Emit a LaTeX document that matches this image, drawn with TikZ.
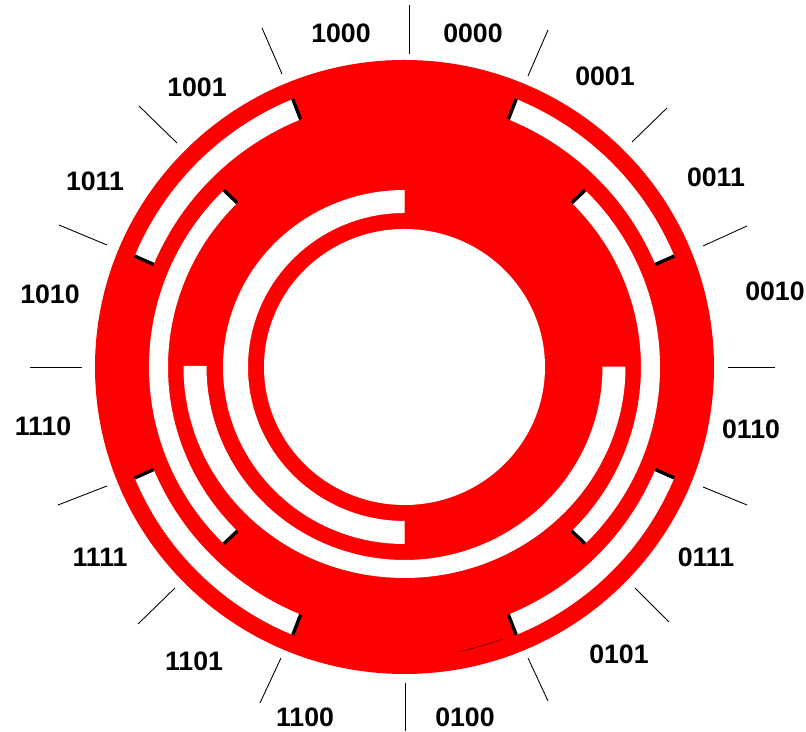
\documentclass[tikz,border=0pt]{standalone}
\usepackage{fontspec}
\setmainfont{Liberation Sans}
\definecolor{wheelred}{RGB}{255,0,0}
\newcommand{\slot}[6]{%
  \fill[white] (wheel) ++(#1:#3 and #4) arc[start angle=#1,end angle=#2,x radius=#3,y radius=#4]
    -- ($(wheel)+(#2:#5 and #6)$) arc[start angle=#2,end angle=#1,x radius=#5,y radius=#6] -- cycle;}
\newcommand{\slotend}[5]{%
  \draw[slotcap] ($(wheel)+(#1:#2 and #3)$) -- ($(wheel)+(#1:#4 and #5)$);}
\usetikzlibrary{calc}
\begin{document}
\begin{tikzpicture}[x=0.02cm,y=0.02cm,
    codelab/.style={font=\fontsize{15.2}{17}\selectfont\bfseries,inner sep=0pt},
    tick/.style={black,line width=0.5pt},
    slotcap/.style={black,line width=1.9pt}]
  \useasboundingbox (0,0) rectangle (806,732);
  \coordinate (wheel) at (404.5,365);
  % disc and hole
  \fill[wheelred] (wheel) ellipse [x radius=309.5,y radius=307];
  \fill[white] (wheel) ellipse [x radius=140.5,y radius=138];
  % tracks, inner to outer
  \slot{90}{270}{181.5}{177}{156.5}{154}
  \slot{179.7}{360.1}{221}{211}{198}{193}
  \foreach \a in {135,-45} {
    \pgfmathsetmacro{\b}{\a+90}
    \slot{\a}{\b}{255.5}{250}{236.5}{232}
    \slotend{\a}{255.5}{250}{236.5}{232}
    \slotend{\b}{255.5}{250}{236.5}{232}
  }
  \foreach \a in {22.5,112.5,202.5,292.5} {
    \pgfmathsetmacro{\b}{\a+45}
    \slot{\a}{\b}{292}{290}{271.5}{268}
    \slotend{\a}{292}{290}{271.5}{268}
    \slotend{\b}{292}{290}{271.5}{268}
  }
  % stray hairline at the bottom
  \draw[black!70!red,line width=0.3pt] (460,80.5) to[bend right=3] (503,93);
  % sector ticks
  \foreach \xa/\ya/\xb/\yb in {409/727/409/678,548/702/528/656,667/624/632/590,747/506/703/486,
      775/365/728/365,747/227/703/245,669/110/635/144,548/31/528/74,405/49/405/1,281/74/260/29,
      175/144/138/108,107/246/58/227,82/365/30/365,107/487/59/507,177/589/139/626,282/658/262/704} {
    \draw[tick] (\xa,\ya) -- (\xb,\yb);
  }
  % codes
  \foreach \t/\x/\y in {1000/341/699,0000/473/699,0001/605/656,0011/716/555,0010/775/441,0110/751/303,
      0111/706/175,0101/619/78,0100/465/15,1100/305/15,1101/194/71,1111/100/175,1110/43/306,
      1010/50/438,1011/95/551,1001/197/645} {
    \node[codelab] (c\t) at (\x,\y) {\t};
  }
\end{tikzpicture}
\end{document}
